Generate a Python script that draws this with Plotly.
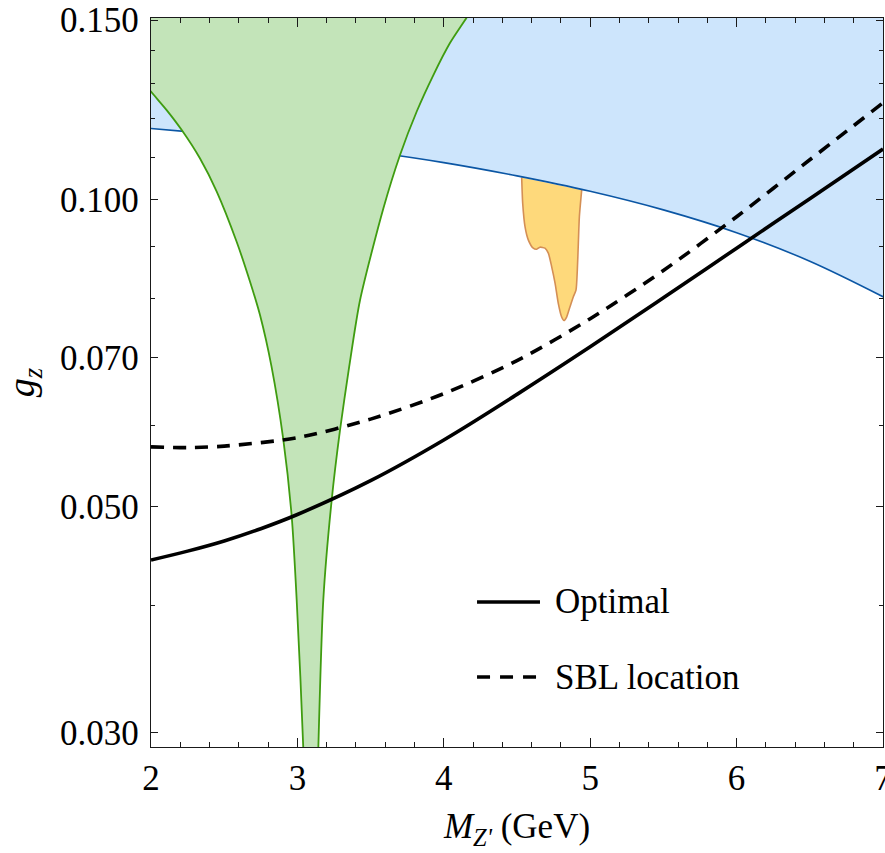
import plotly.graph_objects as go

# ---- data ----
# blue excluded region: lower boundary (filled up to the top of the frame)
blue_m = [1.9, 2.0, 2.5, 3.0, 3.5, 4.0, 4.5, 5.0, 5.5, 6.0, 6.5, 7.0, 7.1]
blue_g = [0.1177, 0.1174, 0.1157, 0.1137, 0.1114, 0.1087, 0.1055, 0.1019, 0.0977, 0.0928, 0.0870, 0.0803, 0.0789]

# green excluded region (J/psi): left and right boundaries
green_left_m = [1.9, 2.0, 2.107, 2.21, 2.335, 2.449, 2.585, 2.676, 2.745, 2.823, 2.904, 2.961, 2.995, 3.040, 3.063]
green_left_g = [0.133, 0.1276, 0.1224, 0.1170, 0.1097, 0.1018, 0.0909, 0.0831, 0.0770, 0.0686, 0.0581, 0.0489, 0.0405, 0.0290, 0.0200]
green_right_m = [3.118, 3.143, 3.177, 3.234, 3.291, 3.354, 3.428, 3.587, 3.701, 3.815, 3.928, 4.042, 4.167, 4.26]
green_right_g = [0.0200, 0.0290, 0.0405, 0.0507, 0.0594, 0.0686, 0.0797, 0.0980, 0.1106, 0.1220, 0.1324, 0.1424, 0.1517, 0.1602]

# yellow region
yellow_m = [4.532, 4.539, 4.555, 4.577, 4.611, 4.635, 4.657, 4.691, 4.714, 4.737, 4.760, 4.782,
            4.805, 4.821, 4.839, 4.862, 4.885, 4.903, 4.912, 4.919, 4.926, 4.942]
yellow_g = [0.1051, 0.0991, 0.0940, 0.0913, 0.0896, 0.0894, 0.0898, 0.0896, 0.0886, 0.0859, 0.0828, 0.0791,
            0.0767, 0.0761, 0.0767, 0.0785, 0.0803, 0.0815, 0.0853, 0.0906, 0.0962, 0.1022]

# optimal curve (solid)
opt_m = [2.0, 2.25, 2.5, 2.75, 3.0, 3.5, 4.0, 4.5, 5.0, 5.5, 6.0, 6.5, 7.0]
opt_g = [0.0443, 0.0452, 0.04625, 0.04755, 0.0491, 0.0530, 0.0581, 0.0644, 0.0717, 0.0801, 0.0896, 0.1002, 0.1121]

# SBL location curve (dashed)
sbl_m = [2.0, 2.25, 2.5, 3.0, 3.5, 4.0, 4.5, 5.0, 5.5, 6.0, 6.5, 7.0]
sbl_g = [0.0572, 0.0571, 0.0573, 0.0584, 0.0609, 0.0645, 0.0695, 0.0764, 0.0852, 0.0962, 0.1094, 0.1244]

x_ticks = [2, 3, 4, 5, 6, 7]
y_ticks = [0.03, 0.05, 0.07, 0.10, 0.15]
y_ticktext = ["0.030", "0.050", "0.070", "0.100", "0.150"]
y_minor = [0.04, 0.06, 0.08, 0.09, 0.11, 0.12, 0.13, 0.14]

TOP = 0.3
FONT = "Liberation Serif"
FS = 35

fig = go.Figure()

# yellow region
fig.add_trace(go.Scatter(
    x=yellow_m, y=yellow_g, mode="lines", fill="toself",
    fillcolor="#fed97b", line=dict(color="#d48f55", width=1.6, shape="spline", smoothing=0.6),
    hoverinfo="skip", showlegend=False))

# blue region
fig.add_trace(go.Scatter(
    x=blue_m + [blue_m[-1], blue_m[0]], y=blue_g + [TOP, TOP], mode="lines", fill="toself",
    fillcolor="#cde5fc", line=dict(color="#0b56a4", width=1.6, shape="spline", smoothing=0.7),
    hoverinfo="skip", showlegend=False))

# green region
gx = [green_left_m[0]] + green_left_m + green_right_m + [green_right_m[-1]]
gy = [TOP] + green_left_g + green_right_g + [TOP]
fig.add_trace(go.Scatter(
    x=gx, y=gy, mode="lines", fill="toself",
    fillcolor="#c3e4b9", line=dict(color="#3f9c10", width=1.8, shape="spline", smoothing=0.7),
    hoverinfo="skip", showlegend=False))

# curves
fig.add_trace(go.Scatter(
    x=opt_m, y=opt_g, mode="lines", name="Optimal",
    line=dict(color="black", width=3.6, shape="spline", smoothing=1.0), showlegend=False))
fig.add_trace(go.Scatter(
    x=sbl_m, y=sbl_g, mode="lines", name="SBL location",
    line=dict(color="black", width=3.6, dash="13px,9px", shape="spline", smoothing=0.8), showlegend=False))

# legend drawn manually (Mathematica style)
fig.add_shape(type="line", xref="paper", yref="paper", x0=0.4454, x1=0.5314, y0=0.199, y1=0.199,
              line=dict(color="black", width=3.6))
fig.add_shape(type="line", xref="paper", yref="paper", x0=0.4454, x1=0.5314, y0=0.096, y1=0.096,
              line=dict(color="black", width=3.6, dash="13px,10px"))
fig.add_annotation(text="Optimal", xref="paper", yref="paper", x=0.549, y=0.199,
                   xanchor="left", yanchor="middle", showarrow=False,
                   font=dict(family=FONT, size=FS, color="black"))
fig.add_annotation(text="SBL location", xref="paper", yref="paper", x=0.549, y=0.096,
                   xanchor="left", yanchor="middle", showarrow=False,
                   font=dict(family=FONT, size=FS, color="black"))

axis_common = dict(
    showgrid=False, zeroline=False, showline=True, linecolor="#1a1a1a", linewidth=1.3,
    mirror="ticks", ticks="inside", tickcolor="#1a1a1a", tickwidth=1.2,
    tickfont=dict(family=FONT, size=FS, color="black"),
    ticklabeloverflow="allow", automargin=False,
)

fig.update_xaxes(
    range=[2, 7], tickvals=x_ticks, ticktext=[str(v) for v in x_ticks], ticklen=9,
    minor=dict(dtick=0.2, ticks="inside", ticklen=5, tickcolor="#1a1a1a", tickwidth=1.1, showgrid=False),
    title=dict(text="<i>M</i><sub><i>Z'</i></sub> (GeV)", font=dict(family=FONT, size=FS, color="black"),
               standoff=16),
    **axis_common)
fig.update_yaxes(
    type="log", range=[-1.537, -0.8219], tickvals=y_ticks, ticktext=y_ticktext, ticklen=7,
    ticklabelstandoff=4,
    minor=dict(tickvals=y_minor, ticks="inside", ticklen=4, tickcolor="#1a1a1a", tickwidth=1.1, showgrid=False),
    title=dict(text="<i>g</i><sub><i>z</i></sub>", font=dict(family=FONT, size=38, color="black"),
               standoff=14),
    **axis_common)

fig.update_layout(
    width=885, height=853,
    margin=dict(l=151, r=2, t=18, b=106),
    plot_bgcolor="white", paper_bgcolor="white",
    font=dict(family=FONT, color="black"),
)

fig.write_html("out.html")
